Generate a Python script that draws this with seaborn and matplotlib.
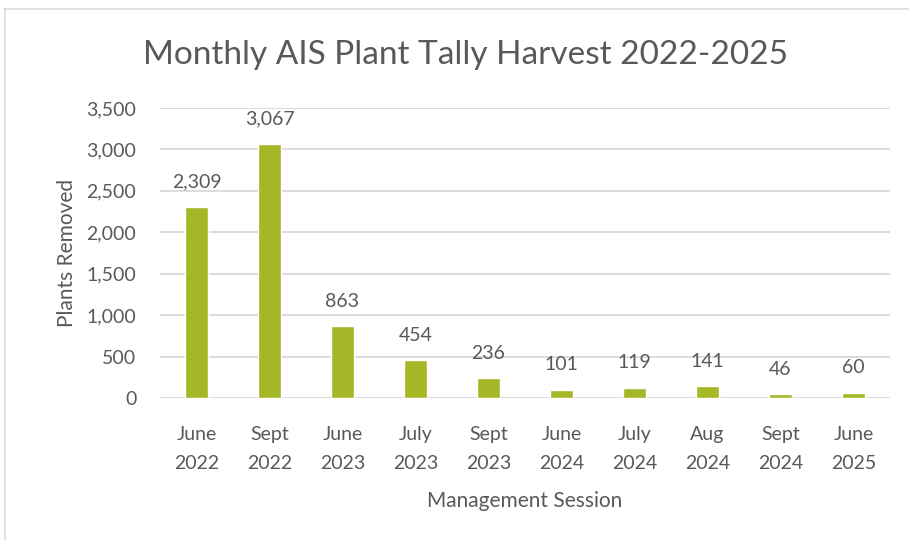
import matplotlib
matplotlib.use('Agg')
from matplotlib import pyplot as plt
from matplotlib.lines import Line2D
import matplotlib.ticker as mticker
import pandas as pd
import seaborn as sns

sessions = ['June\n2022', 'Sept\n2022', 'June\n2023', 'July\n2023', 'Sept\n2023',
            'June\n2024', 'July\n2024', 'Aug\n2024', 'Sept\n2024', 'June\n2025']
plants_removed = [2309, 3067, 863, 454, 236, 101, 119, 141, 46, 60]

bar_color = '#A5B727'
text_color = '#595959'
grid_color = '#D9D9D9'

sns.set_style('white')
plt.rcParams['font.family'] = ['Lato', 'DejaVu Sans']

df = pd.DataFrame({'session': sessions, 'plants': plants_removed})

fig = plt.figure(figsize=(9.09, 5.4), dpi=100)
ax = fig.add_axes([0.176, 0.263, 0.803, 0.537])

sns.barplot(data=df, x='session', y='plants', color=bar_color, width=0.31,
            saturation=1, ax=ax, zorder=3)

ax.set_ylim(0, 3500)
ax.yaxis.set_major_locator(mticker.MultipleLocator(500))
ax.yaxis.set_major_formatter(mticker.FuncFormatter(lambda v, p: '{:,.0f}'.format(v)))
ax.grid(axis='y', color=grid_color, linewidth=1.3, zorder=0)
for s in ax.spines.values():
    s.set_visible(False)
ax.tick_params(axis='both', length=0, labelsize=14, colors=text_color)
ax.tick_params(axis='x', pad=20)
ax.tick_params(axis='y', pad=17)
for lbl in ax.get_xticklabels():
    lbl.set_linespacing(1.85)

for i, v in enumerate(plants_removed):
    ax.annotate('{:,}'.format(v), (i, v), xytext=(0, 12), textcoords='offset points',
                ha='center', va='bottom', fontsize=14, color=text_color)

ax.set_xlabel('Management Session', fontsize=15, color=text_color, labelpad=14)
ax.set_ylabel('Plants Removed', fontsize=15, color=text_color, labelpad=7)

fig.text(0.512, 0.898, 'Monthly AIS Plant Tally Harvest 2022-2025', ha='center',
         va='center', fontsize=24, color=text_color)

# chart frame (top and left edges visible)
fig.add_artist(Line2D([0.004, 1.0], [0.983, 0.983], color=grid_color, linewidth=1.2))
fig.add_artist(Line2D([0.006, 0.006], [0.0, 0.983], color=grid_color, linewidth=1.2))

fig.savefig('out.png', dpi=100, facecolor='white')
